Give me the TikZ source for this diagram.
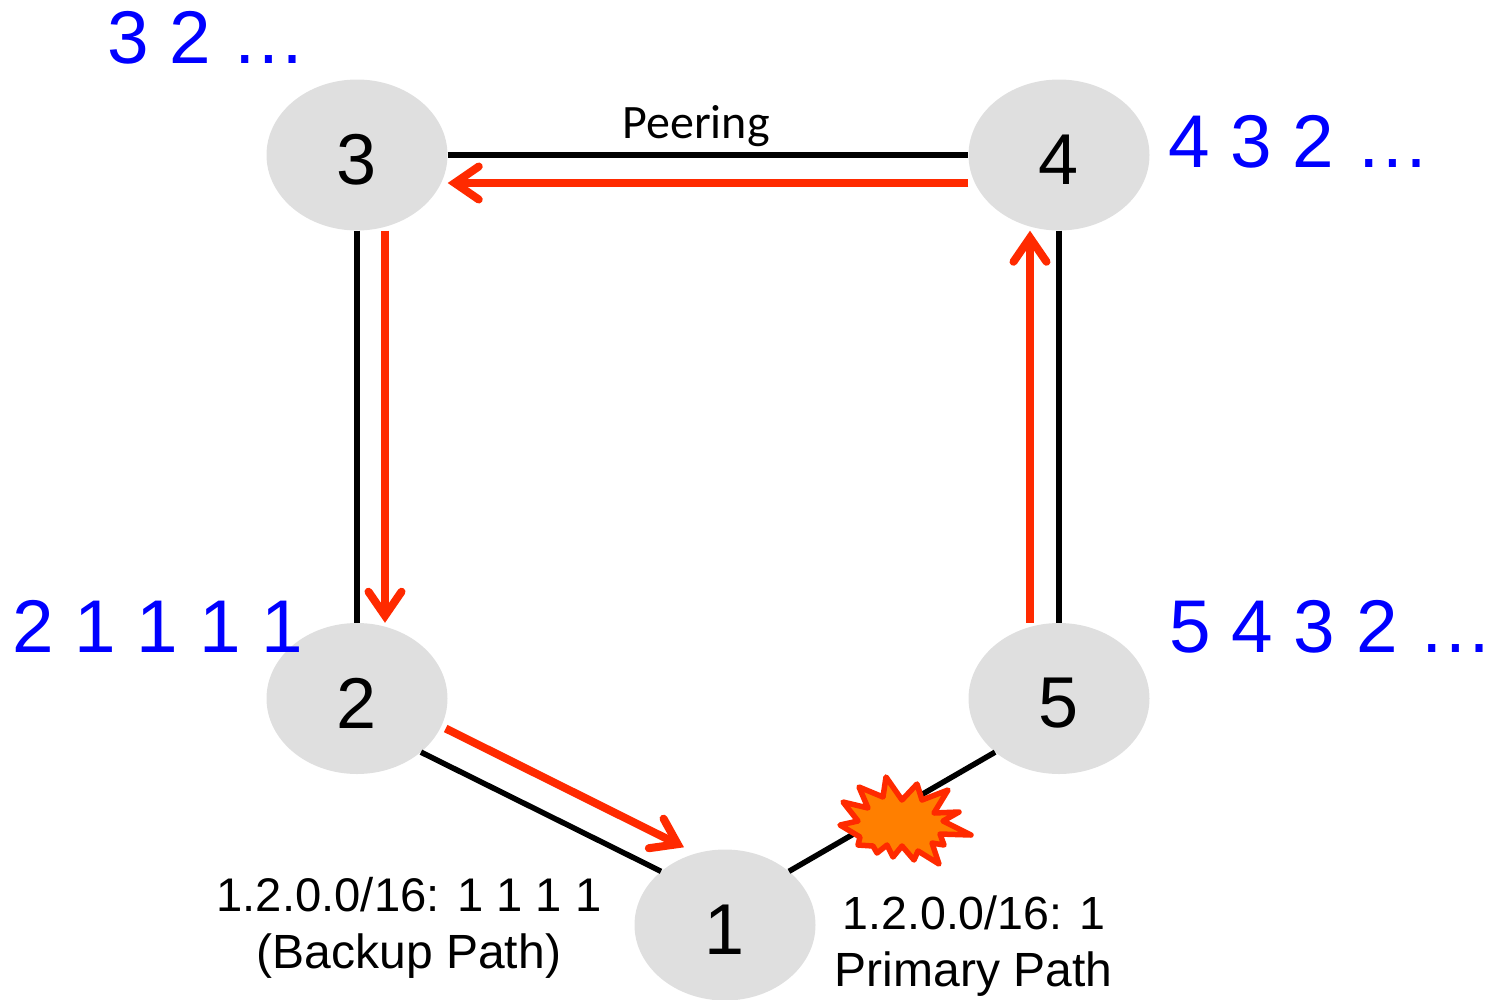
\documentclass[tikz,border=0pt]{standalone}
\usepackage{fontspec}
\setmainfont[Kerning=Off]{Liberation Sans}
\newfontfamily\peerfont{Carlito}
\usetikzlibrary{shapes.geometric,arrows.meta}
\definecolor{nodegray}{HTML}{DFDFDF}
\definecolor{pathred}{HTML}{FF2A00}
\definecolor{burstorange}{HTML}{FF7F00}
\definecolor{pathblue}{HTML}{0000FF}
\newcommand{\aslabel}[1]{\raisebox{-5pt}[\height][\depth]{#1}}
\tikzset{
  asnode/.style={ellipse,fill=nodegray,minimum width=181pt,minimum height=151pt,inner sep=0pt,font=\fontsize{72}{72}\selectfont},
  link/.style={draw=black,line width=5.5pt},
  route/.style={draw=pathred,line width=8pt,-{Straight Barb[length=24pt,width=33pt,line cap=round,line width=8pt]}},
  aspath/.style={anchor=base west,inner sep=0pt,text=pathblue,font=\fontsize{74.7}{75}\selectfont},
  note/.style={anchor=base,inner sep=0pt,text=black,font=\fontsize{48}{48}\selectfont},
  numnote/.style={note,font=\fontsize{46.5}{48}\selectfont},
  burst/.style={draw=pathred,fill=burstorange,line width=5.5pt,line join=round}
}
\begin{document}
\begin{tikzpicture}[x=1pt,y=-1pt]
\useasboundingbox (0,0) rectangle (1499,999);
\node[asnode] (n3) at (357,155) {\aslabel{3}};
\node[asnode] (n4) at (1059,155) {\aslabel{4}};
\node[asnode] (n2) at (357,698.5) {\aslabel{2}};
\node[asnode] (n5) at (1059,698.5) {\aslabel{5}};
\node[asnode] (n1) at (725,925) {\aslabel{1}};
\draw[link] (n3.east) -- (n4.west);
\draw[link] (n3.south) -- (n2.north);
\draw[link] (n4.south) -- (n5.north);
\draw[link] (n2.-40) -- (n1.140);
\draw[link] (n1.40) -- (n5.220);
\draw[route] ([yshift=-28pt]n4.west) -- ([yshift=-28pt]n3.east);
\draw[route] ([xshift=28pt]n3.south) -- ([xshift=28pt]n2.north);
\draw[route] ([xshift=-29pt]n5.north) -- ([xshift=-29pt]n4.south);
\draw[route] ([xshift=-2pt,yshift=-30pt]n2.east) -- ([xshift=-41pt,yshift=2pt]n1.north);
\draw[burst] (840,825) -- (858,821) -- (843,802) -- (868,808) -- (859,787) -- (883,797) -- (886,777) -- (902,800) -- (917,784) -- (922,800) -- (948,790) -- (934,813) -- (959,812) -- (943,821) -- (971,835) -- (940,834) -- (944,845) -- (932,843) -- (939,864) -- (918,851) -- (914,860) -- (902,846) -- (893,857) -- (887,845) -- (877,853) -- (873,846) -- (858,845) -- (860,837) -- cycle;
\node[aspath] (p3) at (107,63.5) {3 2 …};
\node[aspath] (p4) at (1168,167) {4 3 2 …};
\node[aspath] (p5) at (1169,652) {5 4 3 2 …};
\node[aspath] (p2) at (12,652) {2 1 1 1 1};
\node[anchor=base,inner sep=0pt,font=\peerfont\fontsize{48}{48}\selectfont] (peer) at (696,138) {Peering};
\node[numnote,font=\fontsize{47.2}{48}\selectfont] (b1) at (409,911) {1.2.0.0/16: 1 1 1 1};
\node[note] (b2) at (409,968) {(Backup Path)};
\node[numnote] (c1) at (974,929) {1.2.0.0/16: 1};
\node[note] (c2) at (973.5,986) {Primary Path};
\end{tikzpicture}
\end{document}
